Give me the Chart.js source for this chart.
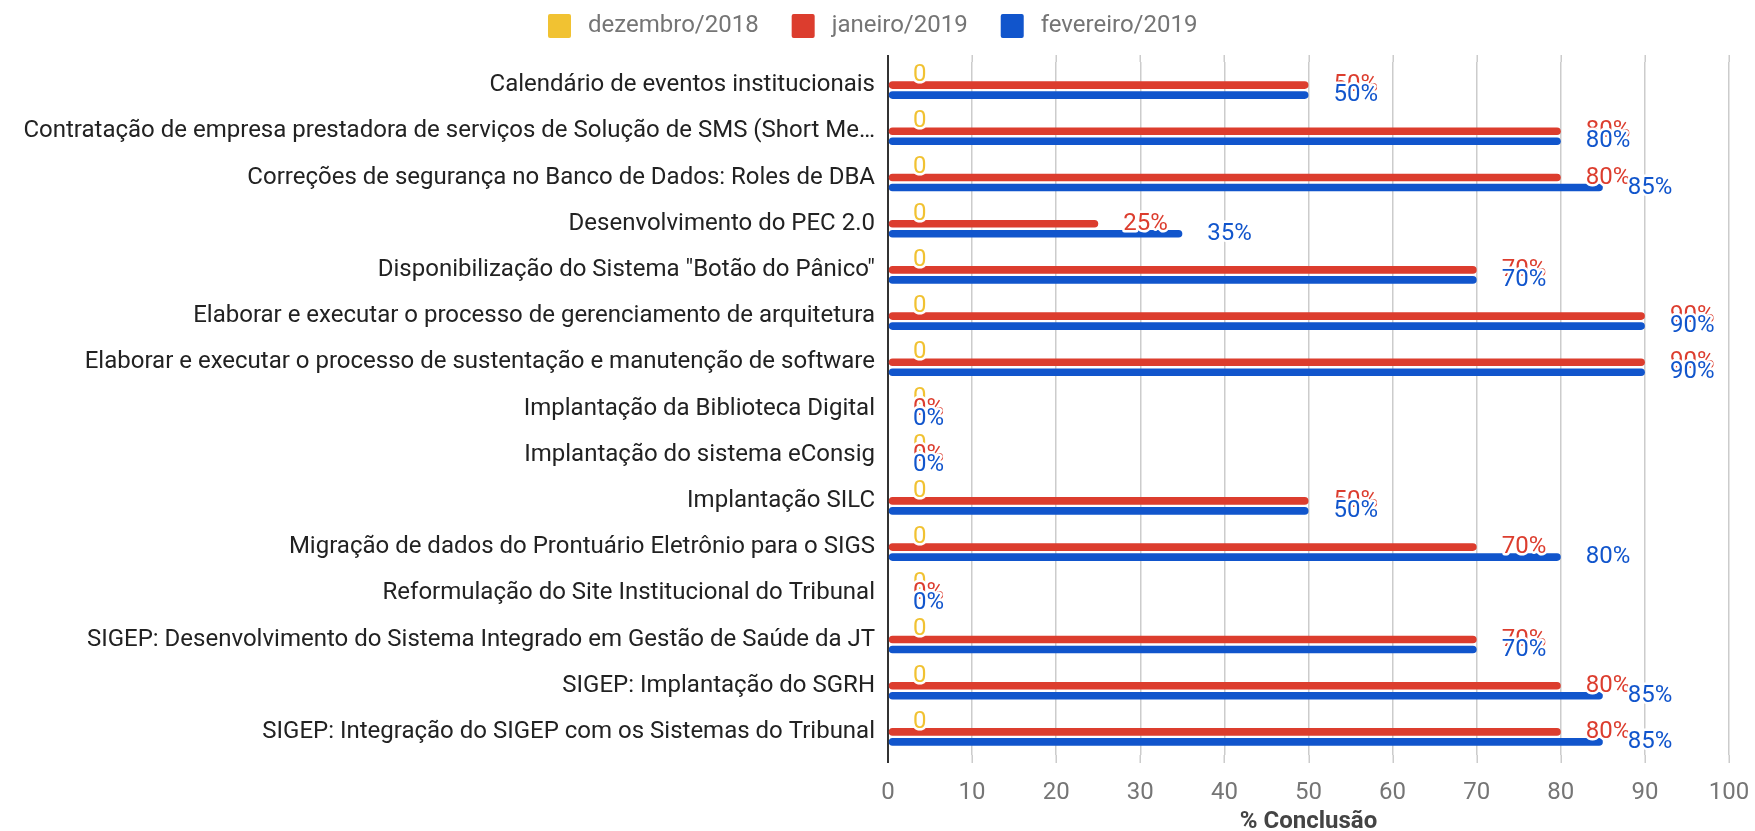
<!DOCTYPE html>
<html>
<head>
<meta charset="utf-8">
<script src="https://cdn.jsdelivr.net/npm/chart.js@4/dist/chart.umd.min.js"></script>
<style>
  html, body { margin: 0; padding: 0; background: #fff; }
  #wrap { width: 1755px; height: 831px; }
</style>
</head>
<body>
<div id="wrap"><canvas id="myChart" width="1755" height="831"></canvas></div>
<script>
// projetos e % de conclusao por mes
var projetos = [
	'Calendário de eventos institucionais',
	'Contratação de empresa prestadora de serviços de Solução de SMS (Short Me…',
	'Correções de segurança no Banco de Dados: Roles de DBA',
	'Desenvolvimento do PEC 2.0',
	'Disponibilização do Sistema "Botão do Pânico"',
	'Elaborar e executar o processo de gerenciamento de arquitetura',
	'Elaborar e executar o processo de sustentação e manutenção de software',
	'Implantação da Biblioteca Digital',
	'Implantação do sistema eConsig',
	'Implantação SILC',
	'Migração de dados do Prontuário Eletrônio para o SIGS',
	'Reformulação do Site Institucional do Tribunal',
	'SIGEP: Desenvolvimento do Sistema Integrado em Gestão de Saúde da JT',
	'SIGEP: Implantação do SGRH',
	'SIGEP: Integração do SIGEP com os Sistemas do Tribunal'
];
var meses = ['dezembro/2018', 'janeiro/2019', 'fevereiro/2019'];
var dez2018 = [0, 0, 0, 0, 0, 0, 0, 0, 0, 0, 0, 0, 0, 0, 0];
var jan2019 = [50, 80, 80, 25, 70, 90, 90, 0, 0, 50, 70, 0, 70, 80, 80];
var fev2019 = [50, 80, 85, 35, 70, 90, 90, 0, 0, 50, 80, 0, 70, 85, 85];
var xTicks = [0, 10, 20, 30, 40, 50, 60, 70, 80, 90, 100];

var cores = ['#f1c232', '#dc3d2e', '#1155cc'];
var fonte = 'Roboto';
var corGrade = '#cccccc';

// rotulos em cima das barras (tipo annotations do google charts)
var rotulos = {
	id: 'rotulos',
	afterDatasetsDraw: function(chart) {
		var ctx = chart.ctx;
		ctx.save();
		ctx.font = '24px ' + fonte;
		ctx.textAlign = 'left';
		ctx.textBaseline = 'middle';
		ctx.lineJoin = 'round';
		chart.data.datasets.forEach(function(ds, i) {
			var meta = chart.getDatasetMeta(i);
			meta.data.forEach(function(bar, j) {
				var txt = i == 0 ? String(ds.data[j]) : ds.data[j] + '%';
				var x = bar.x + 25, y = bar.y;
				ctx.strokeStyle = '#fff';
				ctx.lineWidth = 5;
				ctx.strokeText(txt, x, y);
				ctx.fillStyle = cores[i];
				ctx.fillText(txt, x, y);
			});
		});
		ctx.restore();
	}
};

// grade um pouco maior que a area das barras, como no google charts
var gradeExtra = {
	id: 'gradeExtra',
	beforeDatasetsDraw: function(chart) {
		var ctx = chart.ctx, a = chart.chartArea, sx = chart.scales.x;
		ctx.save();
		ctx.strokeStyle = corGrade;
		ctx.lineWidth = 1.5;
		xTicks.forEach(function(v) {
			if (v == 0) return;
			var px = Math.round(sx.getPixelForValue(v)) + 0.25;
			ctx.beginPath();
			ctx.moveTo(px, a.top - 7); ctx.lineTo(px, a.top);
			ctx.moveTo(px, a.bottom); ctx.lineTo(px, a.bottom + 8);
			ctx.stroke();
		});
		ctx.strokeStyle = '#333';
		ctx.lineWidth = 2;
		var x0 = sx.getPixelForValue(0);
		ctx.beginPath();
		ctx.moveTo(x0, a.top - 7); ctx.lineTo(x0, a.bottom + 8);
		ctx.stroke();
		ctx.restore();
	}
};

// legenda desenhada a mao
var legenda = {
	id: 'legenda',
	afterDraw: function(chart) {
		var ctx = chart.ctx;
		ctx.save();
		ctx.font = '24px ' + fonte;
		ctx.textBaseline = 'middle';
		ctx.textAlign = 'left';
		var x = 548, y = 26;
		meses.forEach(function(m, i) {
			ctx.fillStyle = cores[i];
			ctx.beginPath();
			ctx.roundRect(x, y - 12, 23, 24, 2);
			ctx.fill();
			x += 23 + 17;
			ctx.fillStyle = '#757575';
			ctx.fillText(m, x, y);
			x += ctx.measureText(m).width + 33;
		});
		ctx.restore();
	}
};

var ctx = document.getElementById('myChart').getContext('2d');
var myChart = new Chart(ctx, {
	type: 'bar',
	data: {
		labels: projetos,
		datasets: [{
			label: meses[0],
			data: dez2018,
			backgroundColor: cores[0]
		}, {
			label: meses[1],
			data: jan2019,
			backgroundColor: cores[1]
		}, {
			label: meses[2],
			data: fev2019,
			backgroundColor: cores[2]
		}]
	},
	options: {
		indexAxis: 'y',
		responsive: false,
		animation: false,
		devicePixelRatio: 1,
		categoryPercentage: 0.65,
		barPercentage: 0.76,
		borderRadius: 4,
		borderSkipped: false,
		layout: { padding: { left: 0, right: 26, top: 62, bottom: 0 } },
		plugins: {
			legend: { display: false },
			tooltip: { enabled: false }
		},
		scales: {
			x: {
				min: 0,
				max: 100,
				afterBuildTicks: function(s) {
					s.ticks = xTicks.map(function(v) { return { value: v }; });
				},
				afterFit: function(s) {
					s.height = 76;
					s.paddingLeft = 0;
					s.paddingRight = 0;
				},
				grid: { color: corGrade, lineWidth: 1.5, drawTicks: false },
				border: { display: false },
				ticks: {
					font: { family: fonte, size: 24 },
					color: '#757575',
					padding: 24
				},
				title: {
					display: true,
					text: '% Conclusão',
					font: { family: fonte, size: 24, weight: 'bold' },
					color: '#444',
					padding: { top: 0, bottom: -5 }
				}
			},
			y: {
				afterFit: function(s) { s.width = 888; },
				grid: { display: false },
				border: { display: true, color: '#333', width: 2 },
				ticks: {
					font: { family: fonte, size: 24 },
					color: '#222',
					padding: 5,
					autoSkip: false
				}
			}
		}
	},
	plugins: [gradeExtra, rotulos, legenda]
});
</script>
</body>
</html>
